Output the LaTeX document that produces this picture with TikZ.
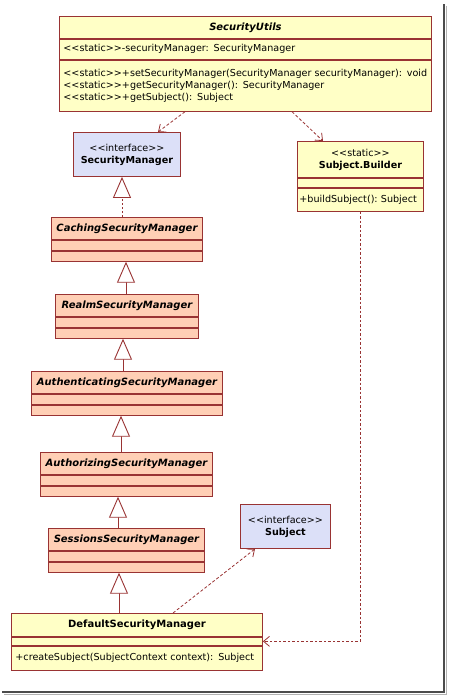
\documentclass[tikz,border=0pt]{standalone}
\usepackage{fontspec}
\setmainfont{DejaVu Sans}[Ligatures=TeXOff]
\usepackage{xcolor}
\usetikzlibrary{arrows.meta,positioning}
\definecolor{umlline}{HTML}{993333}
\definecolor{umlyellow}{HTML}{FFFFC6}
\definecolor{umlsalmon}{HTML}{FFCFB5}
\definecolor{umlblue}{HTML}{DCE0F8}
\tikzset{>={Straight Barb[length=6pt,width=10pt]}}

\begin{document}
\begin{tikzpicture}[x=1pt, y=-1pt, font=\fontsize{9.6}{12}\selectfont,
  cls/.style={draw=umlline, line width=0.9pt, fill=umlyellow, anchor=north west,
    inner xsep=4pt, inner ysep=0pt},
  abs/.style={cls, fill=umlsalmon},
  iface/.style={cls, fill=umlblue, align=center},
  gen/.style={draw=umlline, line width=0.9pt, -{Triangle[length=21pt,width=18pt,fill=white]}},
  dep/.style={draw=umlline, line width=0.8pt, dash pattern=on 3pt off 2pt, ->}]
  \useasboundingbox (0,0) rectangle (448,696);

  % Frame
  \draw[gray!60, line width=1.5pt] (446.5,6) -- (446.5,694.5) -- (4,694.5);
  \draw[black!70, line width=2pt] (444,4) -- (444,692) -- (2,692);

  % SecurityUtils
  \node[cls, minimum width=372, minimum height=22, font=\bfseries\itshape] (utils) at (59,16) {SecurityUtils};
  \node[cls, below=0pt of utils.south west, anchor=north west, minimum height=20,
        text width=364, align=left] (utilsA) {<<static>>-securityManager: SecurityManager};
  \node[cls, below=0pt of utilsA.south west, anchor=north west, minimum height=51,
        text width=364, align=left] (utilsM)
       {<<static>>+setSecurityManager(SecurityManager securityManager): void\\
        <<static>>+getSecurityManager(): SecurityManager\\
        <<static>>+getSubject(): Subject};

  % Interfaces
  \node[iface, minimum width=107, minimum height=44] (secmgr) at (73,132)
       {<<interface>>\\\textbf{SecurityManager}};
  \node[iface, minimum width=90, minimum height=44] (subject) at (240,504)
       {<<interface>>\\\textbf{Subject}};

  % Subject.Builder
  \node[cls, minimum width=126, minimum height=36, align=center] (builder) at (297,141)
       {<<static>>\\\textbf{Subject.Builder}};
  \node[cls, below=0pt of builder.south west, anchor=north west, minimum width=126,
        minimum height=9] (builderA) {};
  \node[cls, below=0pt of builderA.south west, anchor=north west, minimum height=23,
        inner xsep=2pt, text width=122, align=left] (builderM) {+buildSubject():~Subject};

  % Abstract managers
  \foreach \name/\txt/\x/\y/\w in {caching/CachingSecurityManager/51/217/151,
      realm/RealmSecurityManager/55/294/143,
      authc/AuthenticatingSecurityManager/31/371/191,
      authz/AuthorizingSecurityManager/40/452/172,
      sessions/SessionsSecurityManager/48/528/156} {
    \node[abs, minimum width=\w, minimum height=22, font=\bfseries\itshape] (\name) at (\x,\y) {\txt};
    \node[abs, below=0pt of \name.south west, anchor=north west, minimum width=\w,
          minimum height=10] (\name A) {};
    \node[abs, below=0pt of \name A.south west, anchor=north west, minimum width=\w,
          minimum height=10] (\name B) {};
  }

  % DefaultSecurityManager
  \node[cls, minimum width=251, minimum height=23, font=\bfseries] (default) at (11,613) {DefaultSecurityManager};
  \node[cls, below=0pt of default.south west, anchor=north west, minimum width=251,
        minimum height=8] (defaultA) {};
  \node[cls, below=0pt of defaultA.south west, anchor=north west, minimum height=24,
        text width=243, align=left] (defaultM) {+createSubject(SubjectContext context): Subject};

  % Generalizations
  \draw[gen, dash pattern=on 2pt off 2pt] (caching.north -| 122,0) -- (secmgr.south -| 122,0);
  \draw[gen] (realm.north -| 126,0) -- (cachingB.south -| 126,0);
  \draw[gen] (authc.north -| 123,0) -- (realmB.south -| 123,0);
  \draw[gen] (authz.north -| 121,0) -- (authcB.south -| 121,0);
  \draw[gen] (sessions.north -| 118,0) -- (authzB.south -| 118,0);
  \draw[gen] (default.north -| 119,0) -- (sessionsB.south -| 119,0);

  % Dependencies
  \draw[dep] ([xshift=126pt]utilsM.south west) -- ([xshift=85pt]secmgr.north west);
  \draw[dep] ([xshift=233pt]utilsM.south west) -- ([xshift=26pt]builder.north west);
  \draw[dep] ([xshift=162pt]default.north west) -- ([xshift=15pt]subject.south west);
  \draw[dep, dash pattern=on 2.5pt off 2pt] ([xshift=63pt]builderM.south west) |- (defaultA.east);
\end{tikzpicture}
\end{document}
